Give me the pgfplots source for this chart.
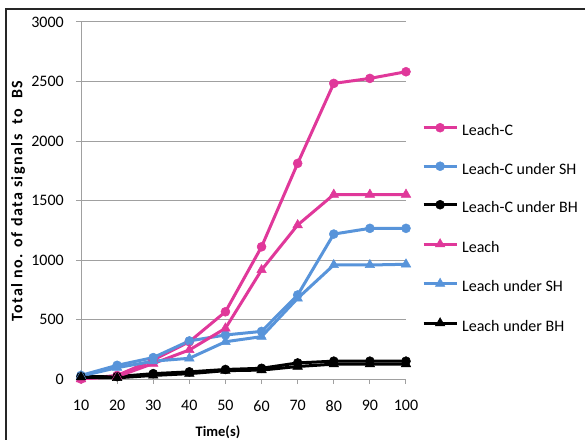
\documentclass[border=0pt]{standalone}
\usepackage{pgfplots}
\pgfplotsset{compat=1.18}
\usepackage{fontspec}
\setmainfont{Carlito}

\definecolor{lcpink}{RGB}{224,56,154}
\definecolor{lcblue}{RGB}{88,148,218}
\definecolor{gridgray}{RGB}{160,160,160}

\begin{document}
\begin{tikzpicture}[x=1pt,y=1pt]
\path[use as bounding box] (0,0) rectangle (585,439);
% chart frame (left and top edges)
\draw[line width=1.4pt, black!85] (6,-2) -- (6,430) -- (587,430);
\begin{axis}[
  at={(81pt,60pt)}, anchor=south west,
  scale only axis, width=325pt, height=357pt,
  xmin=10, xmax=100, ymin=0, ymax=3000,
  xtick={10,20,...,100}, ytick={0,500,...,3000},
  axis x line*=bottom, axis y line*=left,
  axis line style={gridgray, line width=1pt, -},
  ymajorgrids, grid style={gridgray, line width=1pt},
  tick style={gridgray, line width=1pt},
  tick align=outside, major tick length=5pt,
  /pgf/number format/assume math mode=true,
  /pgf/number format/1000 sep={},
  ticklabel style={font=\fontsize{16}{19}\selectfont, inner sep=0pt},
  yticklabel shift=12pt,
  xticklabel shift=16pt,
  xlabel={\textbf{Time(s)}},
  xlabel style={at={(axis description cs:0.4215,-0.1485)}, anchor=center, font=\fontsize{14.5}{17}\selectfont},
  ylabel={\textbf{Total no. of data signals\ \ to\ \ BS}},
  ylabel style={at={(axis description cs:-0.1938,0.5)}, anchor=center,
    font=\fontsize{16}{19}\selectfont\addfontfeature{LetterSpace=9}},
  legend cell align=left,
  legend style={at={(axis description cs:1.049,0.717)}, anchor=north west,
    draw=none, fill=none, inner sep=0pt, row sep=23pt, column sep=4pt,
    font=\fontsize{16}{19}\selectfont,
    nodes={inner sep=0pt, text height=11pt, text depth=3pt}},
  legend image code/.code={\draw[mark repeat=2, mark phase=2] plot coordinates {(0pt,4pt) (16.5pt,4pt) (33pt,4pt)};},
  every axis plot/.append style={line width=3pt},
]
% Leach-C
\addplot[lcpink, mark=*, mark size=4.5pt, mark options={solid, fill=lcpink, line width=0.5pt}]
  coordinates {(10,0) (20,30) (30,160) (40,313) (50,565) (60,1111) (70,1812) (80,2484) (90,2526) (100,2582)};
\addlegendentry{Leach-C}
% Leach-C under SH
\addplot[lcblue, mark=*, mark size=4.5pt, mark options={solid, fill=lcblue, line width=0.5pt}]
  coordinates {(10,30) (20,115) (30,180) (40,320) (50,370) (60,400) (70,706) (80,1218) (90,1266) (100,1266)};
\addlegendentry{Leach-C under SH}
% Leach-C under BH
\addplot[black, mark=*, mark size=4.5pt, mark options={solid, fill=black, line width=0.5pt}]
  coordinates {(10,20) (20,20) (30,45) (40,60) (50,80) (60,90) (70,135) (80,150) (90,150) (100,150)};
\addlegendentry{Leach-C under BH}
% Leach
\addplot[lcpink, mark=triangle*, mark size=5.5pt, mark options={solid, fill=lcpink, line width=0.5pt}]
  coordinates {(10,0) (20,20) (30,130) (40,244) (50,426) (60,916) (70,1294) (80,1550) (90,1550) (100,1550)};
\addlegendentry{Leach}
% Leach under SH
\addplot[lcblue, mark=triangle*, mark size=5.5pt, mark options={solid, fill=lcblue, line width=0.5pt}]
  coordinates {(10,25) (20,95) (30,150) (40,174) (50,313) (60,356) (70,678) (80,958) (90,958) (100,964)};
\addlegendentry{Leach under SH}
% Leach under BH
\addplot[black, mark=triangle*, mark size=5.5pt, mark options={solid, fill=black, line width=0.5pt}]
  coordinates {(10,15) (20,10) (30,30) (40,45) (50,70) (60,75) (70,105) (80,125) (90,125) (100,125)};
\addlegendentry{Leach under BH}
\end{axis}
\end{tikzpicture}
\end{document}
